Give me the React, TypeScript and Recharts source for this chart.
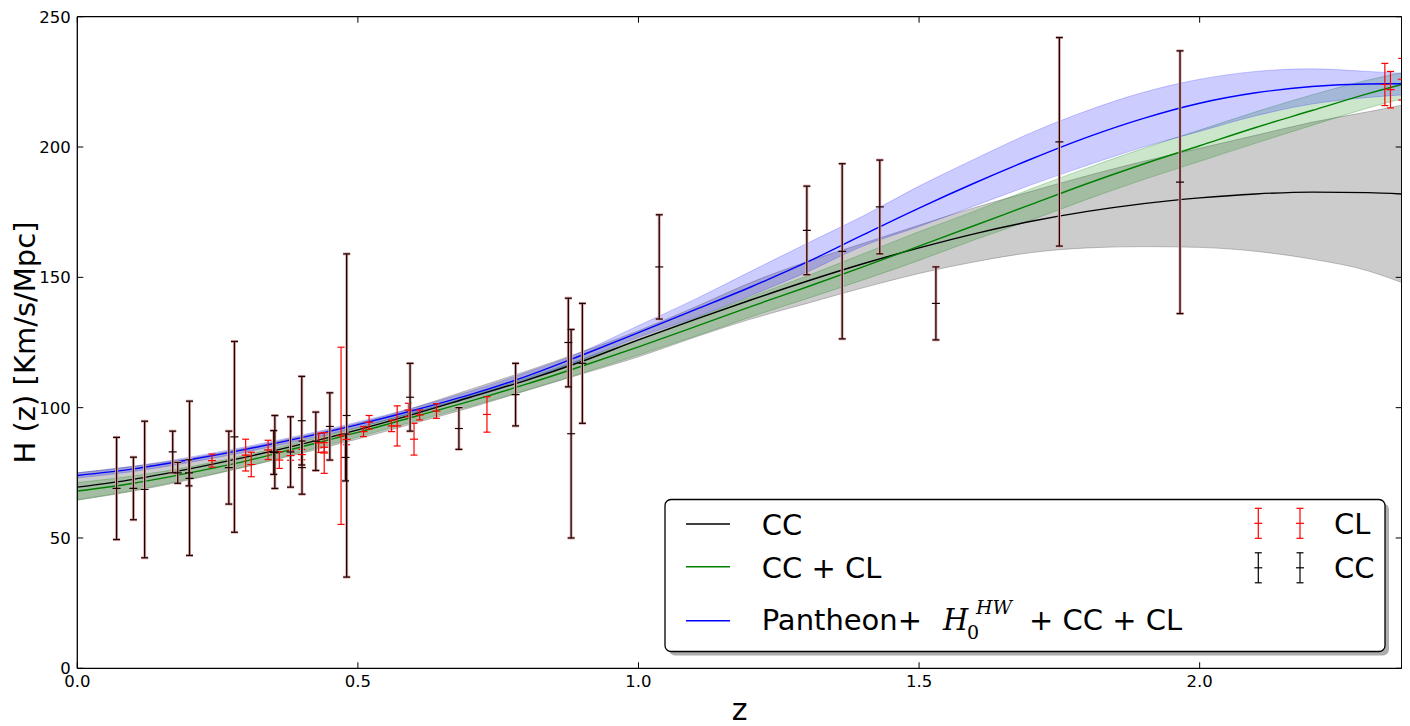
import React from "react";
import { ComposedChart, Line, Area, Scatter, ErrorBar, XAxis, YAxis } from "recharts";

// model curves on a z grid
const zGrid = [0, 0.1, 0.2, 0.3, 0.4, 0.5, 0.6, 0.7, 0.8, 0.9, 1.0, 1.1, 1.2, 1.3, 1.4, 1.5, 1.6, 1.7, 1.8, 1.9, 2.0, 2.1, 2.2, 2.3, 2.36];

const ccMean = [69.5, 72.5, 76.5, 81, 86, 91.5, 97.5, 104, 110.5, 117.8, 126, 133.8, 141.3, 148.5, 155.2, 161.3, 166.8, 171.5, 175.3, 178.3, 180.5, 182, 182.7, 182.5, 182];
const ccHigh = [75, 77.5, 80.5, 84.5, 89, 94, 100, 107, 114, 121.5, 129.5, 138.5, 148, 156, 163, 170, 176.8, 183, 189, 194.5, 199.5, 204.5, 209.5, 213.5, 216];
const ccLow = [64.5, 68, 72.3, 77.3, 82.5, 88, 94, 100, 106.5, 113, 119.5, 127, 134, 140, 146, 151.5, 156, 159.5, 161.3, 161.8, 161.5, 160, 157, 152.5, 148];

const cclMean = [68, 71, 75, 79.5, 85, 90.5, 96.5, 102.5, 109, 116, 123.3, 131, 138.8, 146.3, 154, 162, 170, 178, 186, 193.5, 200.5, 207.5, 214, 220.5, 224];
const cclHigh = [71.3, 73.8, 77.3, 81.7, 87, 92.3, 98.3, 104.5, 111.3, 118.7, 126.2, 134.2, 142.5, 150.5, 159, 167.5, 175.5, 184, 192, 199.5, 206.5, 213.5, 220, 225.7, 228.5];
const cclLow = [64.7, 68.2, 72.7, 77.3, 83, 88.7, 94.7, 100.5, 106.7, 113.3, 120.2, 127.3, 134.8, 141.8, 149, 156.5, 164.5, 172, 180, 187.5, 194.5, 201.5, 208.3, 215, 218.5];

const panMean = [74, 76.5, 80, 84, 88.5, 93.5, 99, 105, 112, 120.2, 128.8, 137.5, 146.3, 155.8, 166.3, 176.6, 186.3, 195.4, 203.8, 211, 216.8, 220.8, 223.2, 224.2, 224.3];
const panHigh = [75, 77.5, 81, 85, 89.5, 94.5, 100, 106.3, 113.5, 121.5, 131.5, 141.5, 152.3, 163, 173.5, 185, 195.5, 205.5, 214, 221, 226, 229, 230, 229, 228.3];
const panLow = [73, 75.5, 79, 83, 87.5, 92.5, 98, 103.7, 110.5, 118.5, 127, 134.5, 143, 152, 162, 169.5, 177.5, 185.5, 193, 200, 206, 212, 216.5, 219, 220];

// CL measurements (red)
const clZ = [0.24, 0.30, 0.31, 0.34, 0.36, 0.38, 0.40, 0.43, 0.44, 0.44, 0.47, 0.48, 0.51, 0.52, 0.56, 0.57, 0.59, 0.60, 0.61, 0.64, 0.73, 2.33, 2.34, 2.36];
const clH = [79.7, 81.8, 78.2, 83.8, 79.9, 81.6, 82.0, 86.5, 82.6, 84.8, 89.2, 87.8, 90.8, 94.4, 93.0, 93.0, 99.1, 87.9, 97.2, 98.7, 97.4, 224, 222, 226];
const clErr = [2.5, 6.1, 4.7, 3.7, 3.2, 1.8, 2.0, 3.7, 7.8, 1.8, 34, 2.0, 1.9, 2.6, 2.2, 7.7, 2.6, 6.1, 1.9, 2.8, 6.8, 8.1, 7, 8];

// CC measurements (black)
const ccZ = [0.07, 0.1, 0.12, 0.17, 0.179, 0.199, 0.2, 0.27, 0.28, 0.35, 0.352, 0.38, 0.4, 0.4004, 0.425, 0.45, 0.478, 0.48, 0.593, 0.68, 0.781, 0.875, 0.88, 0.9, 1.037, 1.3, 1.363, 1.43, 1.53, 1.75, 1.965];
const ccH = [69, 69, 68.6, 83, 75, 75, 72.9, 77, 88.8, 82.8, 83, 83, 95, 77, 87.1, 92.8, 80.9, 97, 104, 92, 105, 125, 90, 117, 154, 168, 160, 177, 140, 202, 186.5];
const ccErr = [19.6, 12, 26.2, 8, 4, 5, 29.6, 14, 36.6, 8.4, 14, 13.5, 17, 10.2, 11.2, 12.9, 9, 62, 13, 8, 12, 17, 40, 23, 20, 17, 33.6, 18, 14, 40, 50.4];

const xTicks = [0, 0.5, 1.0, 1.5, 2.0];
const yTicks = [0, 50, 100, 150, 200, 250];

const curves = zGrid.map((z, i) => ({
  z,
  cc: ccMean[i],
  ccBand: [ccLow[i], ccHigh[i]],
  ccl: cclMean[i],
  cclBand: [cclLow[i], cclHigh[i]],
  pan: panMean[i],
  panBand: [panLow[i], panHigh[i]],
}));
const clPoints = clZ.map((z, i) => ({ z, H: clH[i], err: clErr[i] }));
const ccPoints = ccZ.map((z, i) => ({ z, H: ccH[i], err: ccErr[i] }));

const FONT = "DejaVu Sans";
const tickStyle = { fill: "#000", fontSize: 16.5, fontFamily: FONT };
const axisLine = { stroke: "#000", strokeWidth: 1.3 };

const dash = (color: string) => (p: any) =>
  <line x1={p.cx - 4} x2={p.cx + 4} y1={p.cy} y2={p.cy} stroke={color} strokeWidth={1.2} />;

const LegendBar = ({ x, y, color }: { x: number; y: number; color: string }) => (
  <g stroke={color} strokeWidth={1.2}>
    <line x1={x} x2={x} y1={y - 15} y2={y + 15} />
    <line x1={x - 3.5} x2={x + 3.5} y1={y - 15} y2={y - 15} />
    <line x1={x - 3.5} x2={x + 3.5} y1={y + 15} y2={y + 15} />
    <line x1={x - 4} x2={x + 4} y1={y} y2={y} />
  </g>
);

export default function App() {
  return (
    <div style={{ position: "relative", width: 1402, height: 718, fontFamily: FONT }}>
      <ComposedChart width={1402} height={718} data={curves}
        margin={{ top: 8.7, right: 8.3, bottom: 0, left: 0 }}>
        <XAxis type="number" dataKey="z" domain={[0, 2.36]} ticks={xTicks} interval={0}
          tickFormatter={(v: number) => v.toFixed(1)} height={57.7} tickSize={-6} tickMargin={12.7}
          axisLine={axisLine} tickLine={{ stroke: "#000" }} tick={tickStyle} allowDataOverflow />
        <XAxis xAxisId="top" orientation="top" type="number" dataKey="z" domain={[0, 2.36]} ticks={xTicks}
          interval={0} tickFormatter={() => ""} height={0.01} tickSize={-6} axisLine={axisLine}
          tickLine={{ stroke: "#000" }} allowDataOverflow />
        <YAxis type="number" domain={[0, 250]} ticks={yTicks} interval={0} width={69.3} tickSize={-6}
          tickMargin={12.6} axisLine={axisLine} tickLine={{ stroke: "#000" }} tick={tickStyle} allowDataOverflow />
        <YAxis yAxisId="right" orientation="right" type="number" domain={[0, 250]} ticks={yTicks} interval={0}
          width={0.01} tickSize={-6} tickFormatter={() => ""} axisLine={axisLine} tickLine={{ stroke: "#000" }}
          allowDataOverflow />

        <Area type="monotone" dataKey="ccBand" fill="#808080" fillOpacity={0.4} stroke="#808080"
          strokeOpacity={0.5} strokeWidth={1} dot={false} activeDot={false} isAnimationActive={false} />
        <Area type="monotone" dataKey="cclBand" fill="#008000" fillOpacity={0.2} stroke="#008000"
          strokeOpacity={0.25} strokeWidth={1} dot={false} activeDot={false} isAnimationActive={false} />
        <Area type="monotone" dataKey="panBand" fill="#0000ff" fillOpacity={0.2} stroke="#0000ff"
          strokeOpacity={0.2} strokeWidth={1} dot={false} activeDot={false} isAnimationActive={false} />

        <Line type="monotone" dataKey="cc" stroke="#000000" strokeWidth={1.4} dot={false} activeDot={false} isAnimationActive={false} />
        <Line type="monotone" dataKey="ccl" stroke="#008000" strokeWidth={1.4} dot={false} activeDot={false} isAnimationActive={false} />
        <Line type="monotone" dataKey="pan" stroke="#0000ff" strokeWidth={1.4} dot={false} activeDot={false} isAnimationActive={false} />
        {/* invisible series so the top and right frame axes get drawn */}
        <Line xAxisId="top" yAxisId="right" dataKey="cc" stroke="none" dot={false} activeDot={false} isAnimationActive={false} />

        <Scatter data={clPoints} dataKey="H" shape={dash("#ff0000")} isAnimationActive={false}>
          <ErrorBar dataKey="err" direction="y" width={3.5} stroke="#ff0000" strokeWidth={1.2} isAnimationActive={false} />
        </Scatter>
        <Scatter data={ccPoints} dataKey="H" shape={dash("#200000")} isAnimationActive={false}>
          <ErrorBar dataKey="err" direction="y" width={3.5} stroke="#e2b0b0" strokeWidth={3} isAnimationActive={false} />
          <ErrorBar dataKey="err" direction="y" width={3.5} stroke="#200000" strokeWidth={1.3} isAnimationActive={false} />
        </Scatter>
      </ComposedChart>

      <svg width={1402} height={718} style={{ position: "absolute", left: 0, top: 0, pointerEvents: "none" }}
        fontFamily={FONT}>
        <text x={731.5} y={712} fontSize={30} textAnchor="middle">z</text>
        <text transform="translate(27,334.5) rotate(-90)" fontSize={29} textAnchor="middle">H (z) [Km/s/Mpc]</text>

        <rect x={661} y={495.5} width={720} height={152} rx={6} fill="#8c8c8c" opacity={0.7} />
        <rect x={657} y={491.5} width={720} height={152} rx={6} fill="#fff" stroke="#000" strokeWidth={1.3} />

        <line x1={678} x2={722} y1={516} y2={516} stroke="#000" strokeWidth={1.4} />
        <line x1={678} x2={722} y1={558.7} y2={558.7} stroke="#008000" strokeWidth={1.4} />
        <line x1={678} x2={722} y1={612.7} y2={612.7} stroke="#0000ff" strokeWidth={1.4} />
        <text x={753.7} y={527} fontSize={29}>CC</text>
        <text x={753.7} y={570} fontSize={29}>CC + CL</text>
        <text x={753.7} y={622} fontSize={29}>Pantheon+</text>
        <text x={935} y={622} fontSize={29} fontFamily="DejaVu Serif" fontStyle="italic">H</text>
        <text x={959} y={631} fontSize={19} fontFamily="DejaVu Serif">0</text>
        <text x={968} y={606} fontSize={19} fontFamily="DejaVu Serif" fontStyle="italic">HW</text>
        <text x={1021} y={622} fontSize={29}>+ CC + CL</text>

        <LegendBar x={1250.3} y={515.3} color="#ff0000" />
        <LegendBar x={1292} y={515.3} color="#ff0000" />
        <LegendBar x={1250.3} y={559.8} color="#000000" />
        <LegendBar x={1292} y={559.8} color="#000000" />
        <text x={1326} y={526} fontSize={29}>CL</text>
        <text x={1326} y={570} fontSize={29}>CC</text>
      </svg>
    </div>
  );
}
